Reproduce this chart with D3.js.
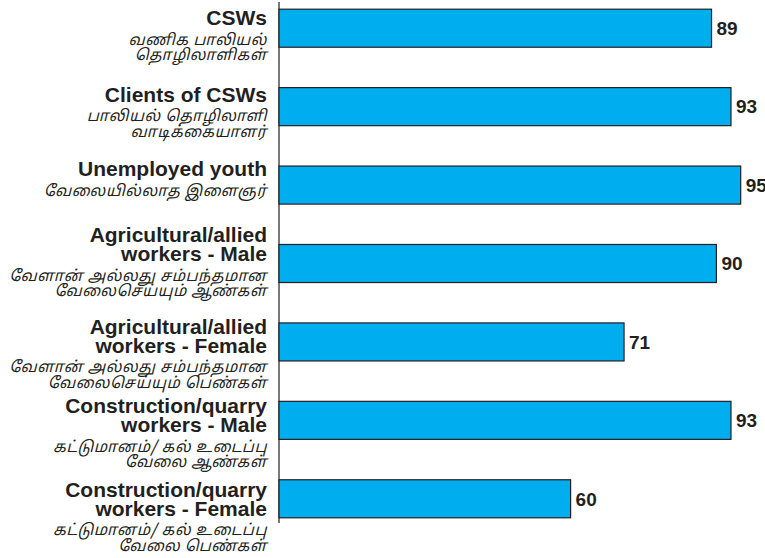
<!DOCTYPE html>
<html>
<head>
<meta charset="utf-8">
<script src="https://cdn.jsdelivr.net/npm/d3@7"></script>
<style>
  body { margin: 0; background: #fff; }
  svg { display: block; }
  .en { font-family: "Liberation Sans", Arial, sans-serif; font-weight: bold; font-size: 21px; fill: #231f20; }
  .ta { font-family: "Noto Sans Tamil", "Lohit Tamil", "Latha", sans-serif; font-style: italic; font-size: 15.5px; letter-spacing: 0.5px; fill: #231f20; }
  .val { font-family: "Liberation Sans", Arial, sans-serif; font-weight: bold; font-size: 19px; fill: #231f20; }
</style>
</head>
<body>
<svg width="765" height="558"></svg>
<script>
// data
const groups = ['CSWs', 'Clients of CSWs', 'Unemployed youth', 'Agri male', 'Agri female', 'Constr male', 'Constr female'];
const values = [89, 93, 95, 90, 71, 93, 60];
const englishLabels = [
  ['CSWs'],
  ['Clients of CSWs'],
  ['Unemployed youth'],
  ['Agricultural/allied', 'workers - Male'],
  ['Agricultural/allied', 'workers - Female'],
  ['Construction/quarry', 'workers - Male'],
  ['Construction/quarry', 'workers - Female']
];
const tamilLabels = [
  ['வணிக பாலியல்', 'தொழிலாளிகள்'],
  ['பாலியல் தொழிலாளி', 'வாடிக்கையாளர்'],
  ['வேலையில்லாத இளைஞர்'],
  ['வேளான் அல்லது சம்பந்தமான', 'வேலைசெய்யும் ஆண்கள்'],
  ['வேளான் அல்லது சம்பந்தமான', 'வேலைசெய்யும் பெண்கள்'],
  ['கட்டுமானம்/ கல் உடைப்பு', 'வேலை ஆண்கள்'],
  ['கட்டுமானம்/ கல் உடைப்பு', 'வேலை பெண்கள்']
];

const svg = d3.select('svg');

const x = d3.scaleLinear().domain([0, 100]).range([279, 765]);
const y = d3.scaleBand()
  .domain(groups)
  .range([-11, 538])
  .paddingInner(0.515)
  .paddingOuter(0.2575);

// axis line only, no ticks
svg.append('line')
  .attr('x1', x(0)).attr('x2', x(0))
  .attr('y1', 2).attr('y2', 523)
  .attr('stroke', '#4d4d4f')
  .attr('stroke-width', 1.5);

svg.selectAll('rect.bar')
  .data(groups)
  .enter()
  .append('rect')
    .attr('class', 'bar')
    .attr('x', x(0))
    .attr('y', d => y(d))
    .attr('width', (d, i) => x(values[i]) - x(0))
    .attr('height', y.bandwidth())
    .attr('fill', '#00aeef')
    .attr('stroke', '#231f20')
    .attr('stroke-width', 1.2);

svg.selectAll('text.val')
  .data(groups)
  .enter()
  .append('text')
    .attr('class', 'val')
    .attr('x', (d, i) => x(values[i]) + 5)
    .attr('y', d => y(d) + y.bandwidth() / 2)
    .attr('dy', '0.36em')
    .text((d, i) => values[i]);

// label blocks hang from the bar top; small per-label nudge as in the original
const labelShift = [1, -1, -5, -17, -4, -3, 2];
const enStep = 19;
const enGap = 19.5;
const taStep = 15.5;
const labelX = 267;

groups.forEach((g, i) => {
  const en = englishLabels[i];
  const ta = tamilLabels[i];
  const top = y(g) + labelShift[i];
  const gLab = svg.append('g');
  en.forEach((line, j) => {
    gLab.append('text')
      .attr('class', 'en')
      .attr('x', labelX)
      .attr('y', top + 15 + j * enStep)
      .attr('text-anchor', 'end')
      .text(line);
  });
  const taStart = top + 15 + (en.length - 1) * enStep + enGap;
  ta.forEach((line, j) => {
    gLab.append('text')
      .attr('class', 'ta')
      .attr('x', labelX)
      .attr('y', taStart + j * taStep)
      .attr('text-anchor', 'end')
      .text(line);
  });
});
</script>
</body>
</html>
